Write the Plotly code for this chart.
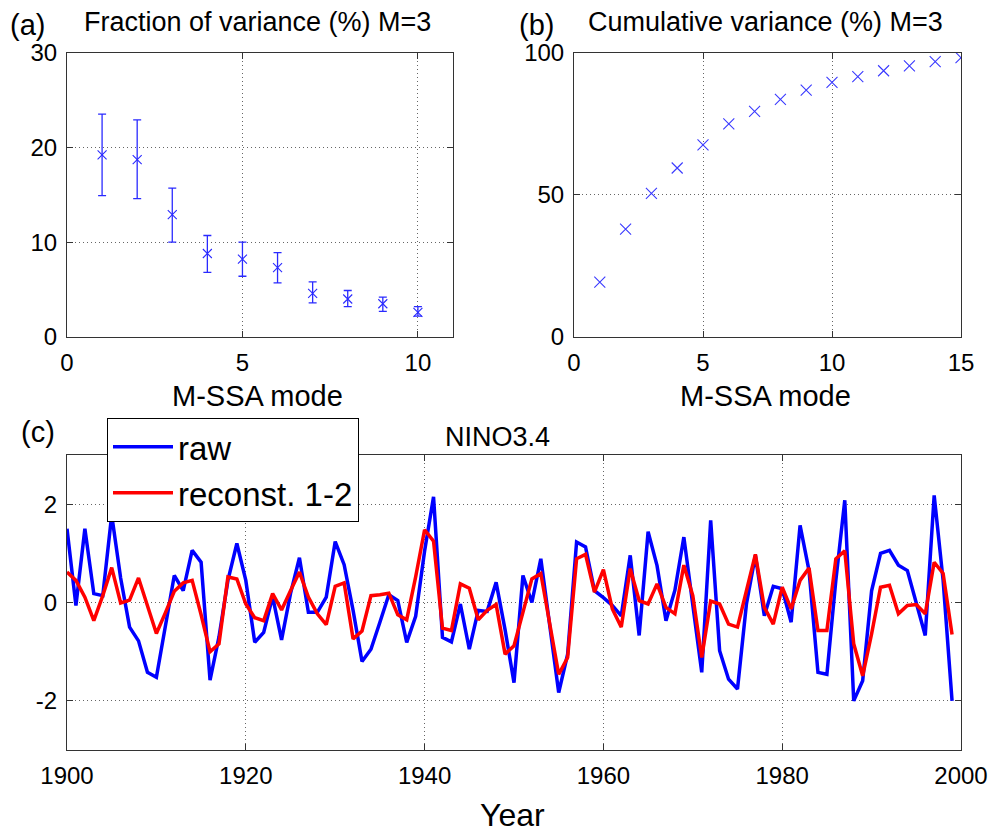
import plotly.graph_objects as go

# ---------------- data ----------------
modes_a = list(range(1, 11))
frac_var = [19.2, 18.7, 12.9, 8.8, 8.2, 7.3, 4.6, 4.0, 3.5, 2.6]
frac_upper = [23.5, 22.9, 15.7, 10.7, 10.0, 8.9, 5.8, 4.9, 4.2, 3.2]
frac_lower = [14.9, 14.6, 10.0, 6.8, 6.4, 5.7, 3.6, 3.2, 2.7, 2.2]

modes_b = list(range(1, 16))
cum_var = [19.3, 37.9, 50.5, 59.4, 67.5, 74.9, 79.3, 83.5, 86.8, 89.5,
           91.5, 93.6, 95.3, 96.8, 98.2]

years = list(range(1900, 2000))
raw = [1.50, -0.06, 1.50, 0.18, 0.14, 1.78, 0.50, -0.50, -0.78, -1.42,
       -1.52, -0.45, 0.55, 0.24, 1.06, 0.82, -1.58, -0.70, 0.45, 1.20,
       0.45, -0.81, -0.61, 0.12, -0.76, 0.18, 0.91, -0.20, -0.20, 0.11,
       1.24, 0.77, -0.16, -1.20, -0.95, -0.40, 0.16, 0.04, -0.81, -0.28,
       1.05, 2.15, -0.71, -0.80, -0.03, -0.95, -0.16, -0.18, 0.41, -0.55,
       -1.63, 0.55, 0.00, 0.89, -0.44, -1.83, -1.05, 1.23, 1.13, 0.24,
       0.10, -0.06, -0.27, 0.96, -0.67, 1.44, 0.75, -0.37, 0.25, 1.33,
       -0.05, -1.42, 1.67, -0.98, -1.56, -1.76, -0.03, 0.96, -0.27, 0.33,
       0.28, -0.40, 1.57, 0.65, -1.42, -1.46, 0.45, 2.08, -2.00, -1.59,
       0.24, 1.00, 1.06, 0.76, 0.65, 0.00, -0.67, 2.18, 0.45, -2.00]
recon = [0.62, 0.45, 0.11, -0.37, 0.14, 0.71, -0.01, 0.05, 0.50, -0.05,
         -0.63, -0.21, 0.23, 0.40, 0.45, -0.25, -1.00, -0.84, 0.52, 0.48,
         -0.03, -0.31, -0.37, 0.18, -0.15, 0.24, 0.62, 0.11, -0.23, -0.45,
         0.33, 0.40, -0.74, -0.58, 0.14, 0.16, 0.19, -0.25, -0.35, 0.52,
         1.48, 1.25, -0.52, -0.57, 0.38, 0.29, -0.35, -0.16, -0.04, -1.05,
         -0.88, -0.20, 0.48, 0.59, -0.40, -1.46, -1.12, 0.89, 0.98, 0.21,
         0.67, -0.13, -0.50, 0.69, 0.04, -0.03, 0.38, -0.10, -0.23, 0.76,
         0.14, -1.12, 0.03, -0.03, -0.44, -0.50, 0.24, 0.98, -0.10, -0.44,
         0.31, -0.13, 0.45, 0.70, -0.57, -0.57, 0.89, 1.05, -0.84, -1.49,
         -0.64, 0.31, 0.35, -0.23, -0.06, -0.04, -0.23, 0.82, 0.59, -0.65]

xticks_a = [0, 5, 10]
yticks_a = [0, 10, 20, 30]
xticks_b = [0, 5, 10, 15]
yticks_b = [0, 50, 100]
xticks_c = [1900, 1920, 1940, 1960, 1980, 2000]
yticks_c = [-2, 0, 2]
yticklabels_c = ["-2", "0", "2"]

# ---------------- figure ----------------
FONT = "Liberation Sans, Arial, sans-serif"
fig = go.Figure()

err_plus = [u - v for u, v in zip(frac_upper, frac_var)]
err_minus = [v - l for v, l in zip(frac_var, frac_lower)]
fig.add_trace(go.Scatter(
    x=modes_a, y=frac_var, mode="markers", showlegend=False,
    marker=dict(symbol="x-thin", size=9, line=dict(color="#2a2aff", width=1.1)),
    error_y=dict(type="data", symmetric=False, array=err_plus, arrayminus=err_minus,
                 color="#2a2aff", thickness=1.3, width=4),
    xaxis="x", yaxis="y"))

fig.add_trace(go.Scatter(
    x=modes_b, y=cum_var, mode="markers", showlegend=False,
    marker=dict(symbol="x-thin", size=11, line=dict(color="#3a3aff", width=1.1)),
    xaxis="x2", yaxis="y2"))

fig.add_trace(go.Scatter(
    x=years, y=raw, mode="lines", name="raw",
    line=dict(color="#0000ff", width=3.5), xaxis="x3", yaxis="y3"))
fig.add_trace(go.Scatter(
    x=years, y=recon, mode="lines", name="reconst. 1-2",
    line=dict(color="#ff0000", width=3.5), xaxis="x3", yaxis="y3"))

axis_common = dict(showline=True, linecolor="#333333", linewidth=1, mirror="ticks",
                   ticks="inside", ticklen=6, tickcolor="#333333",
                   showgrid=True, gridcolor="#666666", griddash="1px,3px", gridwidth=1,
                   zeroline=False, automargin=False,
                   tickfont=dict(family=FONT, size=24, color="black"),
                   ticklabelstandoff=4)

fig.update_layout(
    width=1000, height=834, margin=dict(l=0, r=0, t=0, b=0),
    paper_bgcolor="white", plot_bgcolor="white",
    font=dict(family=FONT, color="black"),
    xaxis=dict(domain=[0.067, 0.453], range=[0, 11], tickvals=xticks_a,
               anchor="y", **axis_common),
    yaxis=dict(domain=[0.596, 0.937], range=[0, 30], tickvals=yticks_a,
               anchor="x", **axis_common),
    xaxis2=dict(domain=[0.574, 0.961], range=[0, 15], tickvals=xticks_b,
                anchor="y2", **axis_common),
    yaxis2=dict(domain=[0.596, 0.937], range=[0, 100], tickvals=yticks_b,
                anchor="x2", **axis_common),
    xaxis3=dict(domain=[0.067, 0.961], range=[1900, 2000], tickvals=xticks_c,
                anchor="y3", **axis_common),
    yaxis3=dict(domain=[0.1007, 0.4544], range=[-3, 3], tickvals=yticks_c,
                ticktext=yticklabels_c, anchor="x3", **axis_common),
    legend=dict(x=0.107, y=0.499, xanchor="left", yanchor="top",
                bgcolor="white", bordercolor="black", borderwidth=1,
                font=dict(family=FONT, size=33, color="black"),
                itemwidth=60, tracegroupgap=0),
)

def ann(text, x, y, size, xanchor="center"):
    fig.add_annotation(text=text, x=x / 1000, y=1 - y / 834, xref="paper", yref="paper",
                       xanchor=xanchor, yanchor="middle", showarrow=False,
                       font=dict(family=FONT, size=size, color="black"))

ann("(a)", 27, 25, 29)
ann("(b)", 536, 25, 29)
ann("(c)", 38, 432, 29)
ann("Fraction of variance (%) M=3", 257, 22, 27)
ann("Cumulative variance (%) M=3", 765, 22, 27)
ann("M-SSA mode", 257, 396, 29)
ann("M-SSA mode", 765, 396, 29)
ann("NINO3.4", 497, 437, 27)
ann("Year", 512, 815, 32)

fig.write_html("out.html")
